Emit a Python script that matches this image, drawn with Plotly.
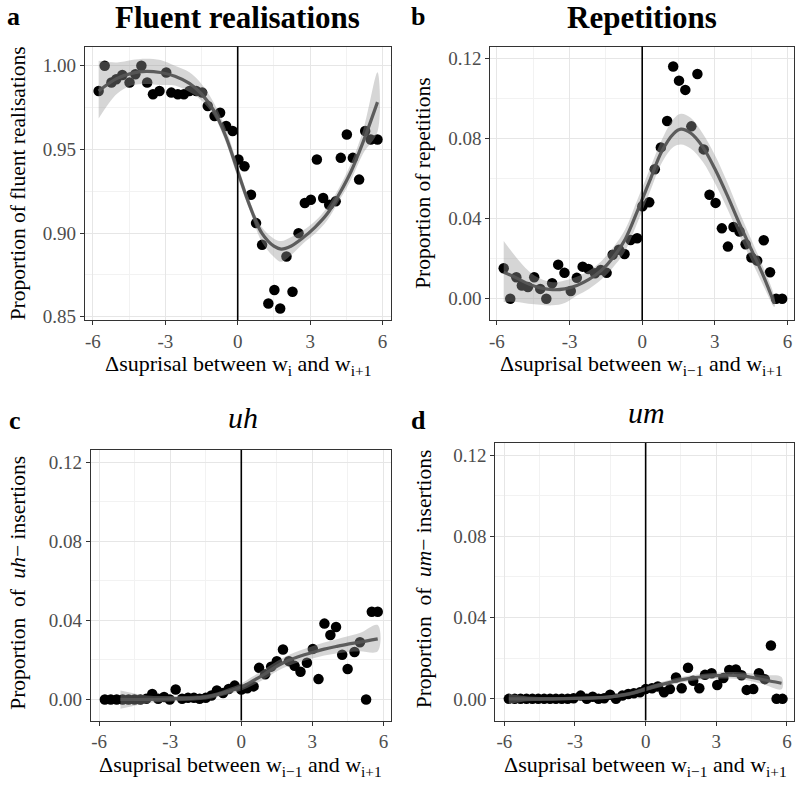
import plotly.graph_objects as go

# ---------------- data ----------------
x_ticks = [-6, -3, 0, 3, 6]
x_tick_labels = ["-6", "-3", "0", "3", "6"]
x_minor = [-4.5, -1.5, 1.5, 4.5]

a_ticks = [0.85, 0.90, 0.95, 1.00]
a_tick_labels = ["0.85", "0.90", "0.95", "1.00"]
a_minor = [0.875, 0.925, 0.975]
p_ticks = [0.00, 0.04, 0.08, 0.12]
p_tick_labels = ["0.00", "0.04", "0.08", "0.12"]
p_minor = [0.02, 0.06, 0.10]

# Panel a: fluent realisations
a_x = [-5.76, -5.51, -5.23, -5.03, -4.78, -4.48, -4.24, -3.99, -3.75, -3.51, -3.24, -2.96, -2.75,
       -2.48, -2.23, -2.00, -1.72, -1.47, -1.24, -0.96, -0.73, -0.48, -0.21, 0.03, 0.28, 0.55,
       0.76, 1.01, 1.27, 1.52, 1.76, 2.02, 2.27, 2.52, 2.78, 3.03, 3.28, 3.54, 3.79, 4.06, 4.27,
       4.52, 4.77, 5.03, 5.28, 5.51, 5.79]
a_y = [0.985, 1.000, 0.990, 0.992, 0.9945, 0.990, 0.995, 1.000, 0.990, 0.983, 0.985, 0.996, 0.984,
       0.983, 0.983, 0.985, 0.985, 0.984, 0.976, 0.970, 0.972, 0.964, 0.961, 0.944, 0.940, 0.923,
       0.906, 0.893, 0.858, 0.866, 0.855, 0.886, 0.865, 0.900, 0.918, 0.920, 0.944, 0.921, 0.917,
       0.919, 0.945, 0.959, 0.945, 0.932, 0.961, 0.956, 0.956]
a_fit_x = [-5.76, -5.0, -4.4, -3.8, -3.2, -2.6, -2.0, -1.5, -1.0, -0.5, 0.0, 0.5, 1.0, 1.5, 1.8,
           2.2, 2.7, 3.2, 3.7, 4.2, 4.7, 5.2, 5.79]
a_fit = [0.985, 0.9925, 0.9955, 0.9967, 0.996, 0.9938, 0.9895, 0.9832, 0.9735, 0.958, 0.937, 0.9163,
         0.9, 0.8922, 0.8905, 0.8922, 0.8972, 0.9035, 0.9114, 0.9232, 0.937, 0.9547, 0.9783]
a_hi = [1.003, 1.002, 1.0035, 1.0043, 1.0035, 1.000, 0.9961, 0.9892, 0.9783, 0.9626, 0.9409, 0.9193,
        0.9035, 0.8967, 0.8953, 0.8976, 0.9016, 0.9071, 0.9154, 0.9272, 0.9419, 0.9616, 0.9961]
a_lo = [0.9685, 0.9833, 0.9882, 0.9892, 0.9886, 0.9882, 0.9843, 0.9793, 0.9705, 0.9547, 0.9331, 0.9134,
        0.8947, 0.8858, 0.8829, 0.8868, 0.8937, 0.8996, 0.9075, 0.9193, 0.9321, 0.9478, 0.9606]

# Panel b: repetitions
b_x = [-5.72, -5.45, -5.20, -4.97, -4.72, -4.46, -4.21, -3.96, -3.72, -3.47, -3.21, -2.95, -2.70,
       -2.46, -2.22, -1.95, -1.71, -1.47, -1.22, -0.96, -0.73, -0.48, -0.21, 0.01, 0.29, 0.52,
       0.77, 1.03, 1.28, 1.52, 1.78, 2.03, 2.28, 2.54, 2.78, 3.03, 3.29, 3.54, 3.77, 4.02, 4.27,
       4.51, 4.75, 5.02, 5.28, 5.53, 5.78]
b_y = [0.0152, 0.0, 0.0107, 0.0066, 0.0058, 0.0107, 0.0049, 0.0, 0.0077, 0.017, 0.0129, 0.0038, 0.0104,
       0.016, 0.0148, 0.0127, 0.0143, 0.0129, 0.0219, 0.0244, 0.0223, 0.0293, 0.0302, 0.0461, 0.0481,
       0.0646, 0.0755, 0.0887, 0.1159, 0.1088, 0.1042, 0.0860, 0.1121, 0.0745, 0.0519, 0.0478, 0.0351,
       0.0260, 0.0358, 0.0335, 0.0272, 0.0206, 0.0190, 0.0292, 0.0132, 0.0, 0.0]
b_fit_x = [-5.72, -5.2, -4.7, -4.2, -3.7, -3.2, -2.7, -2.2, -1.7, -1.2, -0.7, -0.2, 0.3, 0.8, 1.3,
           1.6, 2.0, 2.5, 3.0, 3.5, 4.0, 4.5, 5.0, 5.46]
b_fit = [0.0132, 0.0104, 0.0074, 0.0054, 0.0045, 0.0049, 0.0066, 0.0096, 0.014, 0.0206, 0.0297,
         0.0437, 0.0585, 0.0733, 0.0824, 0.0846, 0.0827, 0.0758, 0.0648, 0.0519, 0.0379, 0.0247,
         0.0115, -0.0025]
b_hi = [0.0288, 0.0206, 0.014, 0.0099, 0.0082, 0.0091, 0.011, 0.014, 0.0186, 0.0255, 0.0346, 0.0494,
        0.0643, 0.0791, 0.0898, 0.0923, 0.0903, 0.0824, 0.0717, 0.0585, 0.0437, 0.0297, 0.0157, 0.0008]
b_lo = [-0.0016, -0.0016, -0.0025, -0.003, -0.0033, -0.0021, 0.0016, 0.0049, 0.0094, 0.0157, 0.0239,
        0.0379, 0.0527, 0.0676, 0.0758, 0.077, 0.075, 0.0684, 0.0577, 0.0453, 0.0318, 0.0193, 0.0066,
        -0.0041]

# Panel c: uh insertions
c_x = [-5.76, -5.51, -5.26, -5.01, -4.76, -4.51, -4.26, -4.01, -3.76, -3.51, -3.26, -3.02, -2.77,
       -2.50, -2.25, -2.00, -1.76, -1.50, -1.26, -1.03, -0.77, -0.53, -0.28, 0.00, 0.25, 0.52,
       0.75, 1.01, 1.26, 1.50, 1.76, 2.01, 2.25, 2.50, 2.77, 3.02, 3.26, 3.51, 3.76, 4.00, 4.26,
       4.49, 4.78, 5.01, 5.27, 5.51, 5.76]
c_y = [0.0, 0.0, 0.0, 0.0, 0.0, 0.0, 0.0, 0.0003, 0.0028, 0.0003, 0.0012, 0.0, 0.005,
       0.0003, 0.0008, 0.0008, 0.0003, 0.0008, 0.002, 0.0045, 0.0033, 0.0053, 0.007, 0.005, 0.0057,
       0.0066, 0.016, 0.0128, 0.0166, 0.0194, 0.0253, 0.0194, 0.017, 0.014, 0.0186, 0.0256, 0.0103,
       0.0384, 0.0326, 0.0367, 0.0226, 0.0154, 0.024, 0.029, 0.0, 0.0444, 0.0444]
c_fit_x = [-5.1, -4.0, -3.0, -2.0, -1.5, -1.0, -0.5, 0.0, 0.5, 1.0, 1.5, 2.0, 2.5, 3.0, 3.5, 4.0,
           4.5, 5.0, 5.76]
c_fit = [0.0, 0.0, 0.0003, 0.0007, 0.0012, 0.0025, 0.0043, 0.0063, 0.0095, 0.013, 0.0168, 0.0198,
         0.022, 0.0238, 0.0255, 0.0268, 0.028, 0.029, 0.0307]
c_hi = [0.0045, 0.002, 0.0017, 0.0019, 0.0024, 0.0037, 0.0058, 0.0081, 0.0117, 0.0155, 0.0193,
        0.0225, 0.0249, 0.0269, 0.0288, 0.0304, 0.032, 0.0336, 0.0377]
c_lo = [-0.0047, -0.002, -0.0011, -0.0005, 0.0, 0.0013, 0.0028, 0.0045, 0.0073, 0.0105, 0.0143,
        0.0171, 0.0191, 0.0207, 0.0222, 0.0232, 0.024, 0.0244, 0.0244]

# Panel d: um insertions
d_x = [-5.81, -5.56, -5.31, -5.06, -4.81, -4.56, -4.31, -4.06, -3.81, -3.56, -3.31, -3.06, -2.76,
       -2.50, -2.25, -2.00, -1.76, -1.51, -1.26, -0.99, -0.74, -0.50, -0.24, 0.00, 0.27, 0.52,
       0.78, 1.03, 1.29, 1.53, 1.80, 2.02, 2.28, 2.52, 2.80, 3.04, 3.30, 3.55, 3.83, 4.07, 4.29,
       4.57, 4.81, 5.06, 5.32, 5.56, 5.81]
d_y = [0.0, 0.0, 0.0, 0.0, 0.0, 0.0, 0.0, 0.0, 0.0, 0.0, 0.0, 0.0003, 0.0016,
       0.0, 0.001, 0.0, 0.0003, 0.002, 0.0, 0.0016, 0.0024, 0.0027, 0.0032, 0.0048, 0.0052,
       0.0061, 0.0032, 0.0048, 0.0105, 0.0052, 0.0153, 0.0089, 0.0052, 0.0118, 0.0126, 0.0068, 0.0102,
       0.0142, 0.0145, 0.0116, 0.0044, 0.0048, 0.0126, 0.0097, 0.0263, 0.0, 0.0]
d_fit_x = [-5.81, -5.0, -4.0, -3.0, -2.0, -1.5, -1.0, -0.5, 0.0, 0.5, 1.0, 1.5, 2.0, 2.5, 3.0, 3.5,
           4.0, 4.5, 5.0, 5.77]
d_fit = [0.0, 0.0, 0.0, 0.0002, 0.0006, 0.001, 0.0018, 0.003, 0.0048, 0.0065, 0.008, 0.0093, 0.0103,
         0.011, 0.0114, 0.0116, 0.0114, 0.0106, 0.0094, 0.0077]
d_hi = [0.0025, 0.0012, 0.0009, 0.001, 0.0014, 0.0018, 0.0027, 0.004, 0.0059, 0.0077, 0.0093, 0.0107,
        0.0117, 0.0124, 0.0129, 0.0132, 0.0131, 0.0125, 0.0116, 0.0107]
d_lo = [-0.0025, -0.0012, -0.0009, -0.0006, -0.0002, 0.0002, 0.0009, 0.002, 0.0037, 0.0053, 0.0067,
        0.0079, 0.0089, 0.0096, 0.0099, 0.01, 0.0097, 0.0087, 0.0072, 0.0047]

# ---------------- figure ----------------
W, H = 808, 793
FONT = "Liberation Serif"
fig = go.Figure()

def px_x(p):
    return p / W

def px_y(p):
    return 1 - p / H

panels = [
    dict(x=a_x, y=a_y, fx=a_fit_x, f=a_fit, hi=a_hi, lo=a_lo,
         dom_x=[84, 390], dom_y=[47, 323], yr=[0.848, 1.0115], yt=a_ticks, ytl=a_tick_labels,
         ym=a_minor, xr=[-6.33, 6.33]),
    dict(x=b_x, y=b_y, fx=b_fit_x, f=b_fit, hi=b_hi, lo=b_lo,
         dom_x=[490, 794], dom_y=[47, 323], yr=[-0.0107, 0.1258], yt=p_ticks, ytl=p_tick_labels,
         ym=p_minor, xr=[-6.27, 6.27]),
    dict(x=c_x, y=c_y, fx=c_fit_x, f=c_fit, hi=c_hi, lo=c_lo,
         dom_x=[90, 390], dom_y=[454, 727], yr=[-0.0107, 0.1263], yt=p_ticks, ytl=p_tick_labels,
         ym=p_minor, xr=[-6.35, 6.3]),
    dict(x=d_x, y=d_y, fx=d_fit_x, f=d_fit, hi=d_hi, lo=d_lo,
         dom_x=[495, 794], dom_y=[447, 727], yr=[-0.0107, 0.1259], yt=p_ticks, ytl=p_tick_labels,
         ym=p_minor, xr=[-6.38, 6.3]),
]

layout = {}
shapes = []
for i, p in enumerate(panels):
    n = "" if i == 0 else str(i + 1)
    xa, ya = "x" + n, "y" + n
    fig.add_trace(go.Scatter(x=p["x"], y=p["y"], mode="markers", xaxis=xa, yaxis=ya,
                             marker=dict(size=10.5, color="black", line=dict(width=0)),
                             showlegend=False, hoverinfo="skip"))
    fig.add_trace(go.Scatter(x=p["fx"] + p["fx"][::-1], y=p["hi"] + p["lo"][::-1], mode="lines",
                             fill="toself", fillcolor="rgba(153,153,153,0.4)",
                             line=dict(width=0, shape="spline"), xaxis=xa, yaxis=ya,
                             showlegend=False, hoverinfo="skip"))
    fig.add_trace(go.Scatter(x=p["fx"], y=p["f"], mode="lines", xaxis=xa, yaxis=ya,
                             line=dict(color="rgba(85,85,85,0.95)", width=3.2, shape="spline"),
                             showlegend=False, hoverinfo="skip"))
    common = dict(showline=True, linecolor="#333333", linewidth=1, mirror=True,
                  ticks="outside", ticklen=4, tickcolor="#333333", tickwidth=1,
                  showgrid=True, gridcolor="#e6e6e6", gridwidth=1.2, zeroline=False,
                  tickfont=dict(family=FONT, size=19, color="#4d4d4d"))
    layout["xaxis" + n] = dict(domain=[px_x(p["dom_x"][0]), px_x(p["dom_x"][1])],
                               range=p["xr"], anchor=ya, tickmode="array",
                               tickvals=x_ticks, ticktext=x_tick_labels,
                               minor=dict(tickvals=x_minor, showgrid=True, gridcolor="#f2f2f2",
                                          gridwidth=0.8, ticks=""),
                               **common)
    layout["yaxis" + n] = dict(domain=[px_y(p["dom_y"][1]), px_y(p["dom_y"][0])],
                               range=p["yr"], anchor=xa, tickmode="array",
                               tickvals=p["yt"], ticktext=p["ytl"],
                               minor=dict(tickvals=p["ym"], showgrid=True, gridcolor="#f2f2f2",
                                          gridwidth=0.8, ticks=""),
                               **common)
    shapes.append(dict(type="line", xref=xa, yref=ya + " domain", x0=0, x1=0, y0=0, y1=1,
                       line=dict(color="black", width=1.6), layer="above"))

ann = []
def add_text(text, px, py, size, angle=0, **kw):
    ann.append(dict(text=text, x=px_x(px), y=px_y(py), xref="paper", yref="paper",
                    showarrow=False, textangle=angle, xanchor="center", yanchor="middle",
                    font=dict(family=FONT, size=size, color="black"), **kw))

# panel letters and titles
add_text("<b>a</b>", 13, 17, 26)
add_text("<b>b</b>", 418, 17, 26)
add_text("<b>c</b>", 14, 424, 26)
add_text("<b>d</b>", 418, 424, 26)
add_text("<b>Fluent realisations</b>", 237, 18, 31)
add_text("<b>Repetitions</b>", 642, 18, 31)
add_text("<i>uh</i>", 242, 421, 30)
add_text("<i>um</i>", 646, 416, 30)

# y titles
add_text("Proportion of fluent realisations", 17, 185, 21.5, angle=-90)
add_text("Proportion of repetitions", 423, 185, 21.5, angle=-90)
add_text("Proportion  of  <i>uh</i>\u2212 insertions", 17, 588, 21.5, angle=-90)
add_text("Proportion  of  <i>um</i>\u2212 insertions", 423, 584, 21.5, angle=-90)

# x titles
add_text("\u0394suprisal between w<sub>i</sub> and w<sub>i+1</sub>", 237, 368, 22)
add_text("\u0394suprisal between w<sub>i\u22121</sub> and w<sub>i+1</sub>", 641, 368, 22)
add_text("\u0394suprisal between w<sub>i\u22121</sub> and w<sub>i+1</sub>", 240, 773, 22)
add_text("\u0394suprisal between w<sub>i\u22121</sub> and w<sub>i+1</sub>", 645, 773, 22)

fig.update_layout(width=W, height=H, margin=dict(l=0, r=0, t=0, b=0),
                  paper_bgcolor="white", plot_bgcolor="white",
                  shapes=shapes, annotations=ann, **layout)

fig.write_html("out.html")
